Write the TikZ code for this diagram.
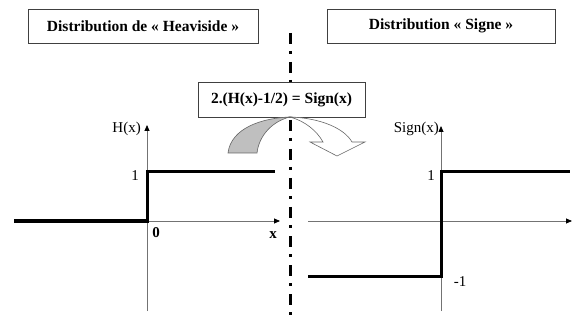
\documentclass[tikz,border=0pt]{standalone}
\usepackage{fontspec}
\setmainfont{Liberation Serif}
\usetikzlibrary{arrows.meta}
\begin{document}
\begin{tikzpicture}[x=1pt,y=-1pt,
  titlebox/.style={draw=black!75,line width=0.8pt,inner sep=0pt,font=\bfseries\fontsize{15.5}{17}\selectfont},
  axisline/.style={draw=black!55,line width=0.8pt,-{Triangle[length=6pt,width=5pt,color=black]}},
  stepline/.style={draw=black,line width=3pt},
  lbl/.style={inner sep=0pt,font=\fontsize{15}{17}\selectfont},
  blbl/.style={inner sep=0pt,font=\bfseries\fontsize{15}{17}\selectfont}]
\useasboundingbox (0,0) rectangle (572,320);
% dash-dot separator
\coordinate (sepTop) at (290,33);
\coordinate (sepBot) at (290,318);
\draw[line width=3pt,dash pattern=on 11pt off 7pt on 3pt off 8pt] (sepTop) -- (sepBot);
% title boxes
\node[titlebox,minimum width=230pt,minimum height=34pt,fill=white] (tl) at (143,26) {Distribution de « Heaviside »};
\node[titlebox,minimum width=228pt,minimum height=34pt,fill=white] (tr) at (441,26) {Distribution « Signe »};
\node[titlebox,minimum width=167pt,minimum height=35pt,fill=white] (mid) at (281.5,99.5) {2.(H(x)-1/2) = Sign(x)};
% curved arrow
\coordinate (atop) at (290,117);
\fill[black!25,draw=black!60,line width=0.6pt] (228,153) .. controls (231,128) and (262,118) .. (atop) .. controls (273,121) and (259,135) .. (257,153) -- cycle;
\draw[fill=white,draw=black!60,line width=0.6pt] (atop) .. controls (320,118) and (344,128) .. (352,142) -- (365,142) -- (337,156) -- (310,142) -- (323,142) .. controls (317,131) and (305,121) .. (atop) -- cycle;
% left graph
\coordinate (hy0) at (147,311);
\coordinate (hy1) at (147,125);
\coordinate (hx0) at (147,221);
\coordinate (hx1) at (280,221);
\draw[axisline] (hy0) -- (hy1);
\draw[axisline] (hx0) -- (hx1);
\draw[stepline] (14,221) -- (147,221) -- (147,172) -- (275,172);
\node[lbl,anchor=east] (hlab) at (141,129) {H(x)};
\node[lbl,anchor=east] (hone) at (139,176) {1};
\node[blbl] (hzero) at (156,233) {0};
\node[blbl] (hxlab) at (273,235) {x};
% right graph
\coordinate (sy0) at (441,311);
\coordinate (sy1) at (441,126);
\coordinate (sx0) at (308,221);
\coordinate (sx1) at (572,221);
\draw[axisline] (sy0) -- (sy1);
\draw[axisline] (sx0) -- (sx1);
\draw[stepline] (308,276) -- (441,276) -- (441,172) -- (570,172);
\node[lbl,anchor=east] (slab) at (439,129) {Sign(x)};
\node[lbl,anchor=east] (sone) at (435,176) {1};
\node[lbl] (smone) at (460,282) {-1};
\end{tikzpicture}
\end{document}
